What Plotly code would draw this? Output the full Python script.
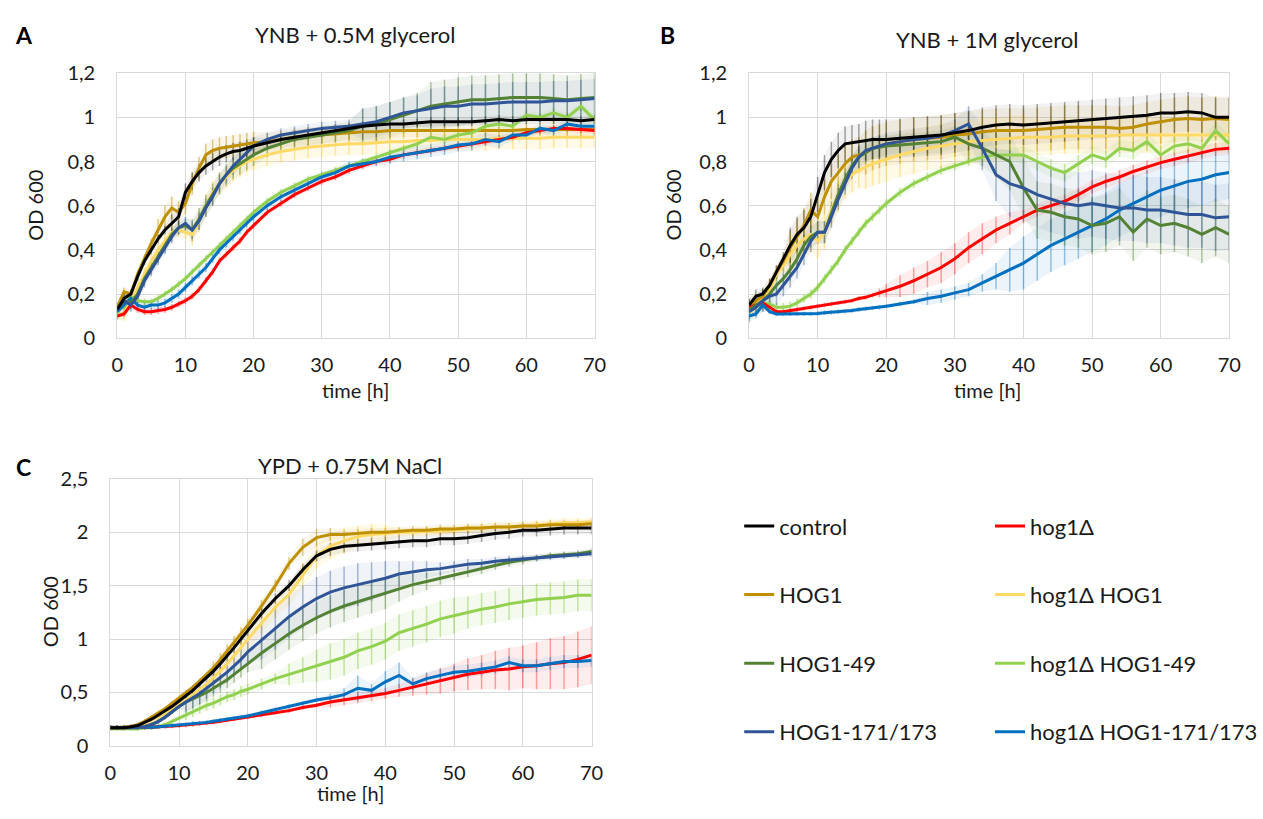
import plotly.graph_objects as go

# ---------------- data ----------------
T = [0, 1, 2, 3, 4, 5, 6, 7, 8, 9, 10, 11, 12, 13, 14, 15, 16, 17, 18, 19, 20,
     22, 24, 26, 28, 30, 32, 34, 36, 38, 40, 42, 44, 46, 48, 50, 52, 54, 56, 58,
     60, 62, 64, 66, 68, 70]

STRAINS = ["control", "hog1Δ", "HOG1", "hog1Δ HOG1", "HOG1-49", "hog1Δ HOG1-49",
           "HOG1-171/173", "hog1Δ HOG1-171/173"]

PANEL_TITLES = ["YNB + 0.5M glycerol", "YNB + 1M glycerol", "YPD + 0.75M NaCl"]
PANEL_LETTERS = ["A", "B", "C"]
X_TICKS = [0, 10, 20, 30, 40, 50, 60, 70]
Y_TICKS_AB = [0, 0.2, 0.4, 0.6, 0.8, 1.0, 1.2]
Y_TICKS_C = [0, 0.5, 1.0, 1.5, 2.0, 2.5]

# ----- Panel A: YNB + 0.5M glycerol -----
A_control = [0.13, 0.18, 0.2, 0.28, 0.35, 0.4, 0.45, 0.49, 0.52, 0.55, 0.66, 0.71, 0.75, 0.78, 0.8, 0.82, 0.835, 0.845, 0.85, 0.86, 0.87,
             0.885, 0.9, 0.91, 0.92, 0.93, 0.94, 0.95, 0.96, 0.965, 0.97, 0.97, 0.975, 0.98, 0.98, 0.98, 0.98, 0.985, 0.99, 0.985,
             0.99, 0.99, 0.99, 0.99, 0.985, 0.99]
A_control_err = [0.02, 0.02, 0.02, 0.02, 0.02, 0.02, 0.02, 0.02, 0.04, 0.04, 0.04, 0.04, 0.04, 0.04, 0.04, 0.04, 0.04, 0.04, 0.04, 0.04, 0.04,
                 0.02, 0.02, 0.02, 0.02, 0.02, 0.02, 0.02, 0.02, 0.02, 0.02, 0.02, 0.02, 0.02, 0.02, 0.02, 0.02, 0.02, 0.02, 0.02,
                 0.02, 0.02, 0.02, 0.02, 0.02, 0.02]
A_hog1d = [0.1, 0.11, 0.15, 0.13, 0.12, 0.12, 0.125, 0.13, 0.14, 0.155, 0.17, 0.19, 0.22, 0.26, 0.3, 0.35, 0.38, 0.41, 0.44, 0.48, 0.51,
           0.57, 0.61, 0.65, 0.68, 0.71, 0.73, 0.76, 0.78, 0.8, 0.81, 0.83, 0.84, 0.85, 0.86, 0.87, 0.88, 0.89, 0.9, 0.91,
           0.93, 0.94, 0.95, 0.95, 0.945, 0.94]
A_hog1d_err = [0.015, 0.015, 0.015, 0.015, 0.015, 0.015, 0.015, 0.015, 0.015, 0.015, 0.015, 0.015, 0.015, 0.015, 0.015, 0.015, 0.015, 0.015, 0.015, 0.015, 0.015,
               0.015, 0.015, 0.015, 0.015, 0.015, 0.015, 0.015, 0.015, 0.015, 0.015, 0.015, 0.015, 0.015, 0.015, 0.015, 0.015, 0.015, 0.015, 0.015,
               0.015, 0.015, 0.015, 0.015, 0.015, 0.015]
A_HOG1 = [0.14, 0.21, 0.2, 0.29, 0.36, 0.43, 0.49, 0.55, 0.59, 0.57, 0.61, 0.7, 0.77, 0.83, 0.85, 0.86, 0.865, 0.87, 0.875, 0.88, 0.885,
          0.89, 0.9, 0.91, 0.915, 0.92, 0.925, 0.93, 0.935, 0.935, 0.94, 0.94, 0.94, 0.94, 0.94, 0.94, 0.94, 0.94, 0.94, 0.94,
          0.945, 0.945, 0.945, 0.945, 0.945, 0.945]
A_HOG1_err = [0.02, 0.02, 0.02, 0.02, 0.02, 0.02, 0.05, 0.05, 0.05, 0.05, 0.05, 0.05, 0.05, 0.05, 0.05, 0.05, 0.05, 0.05, 0.05, 0.05, 0.05,
              0.04, 0.04, 0.04, 0.04, 0.04, 0.04, 0.04, 0.04, 0.04, 0.04, 0.03, 0.03, 0.03, 0.03, 0.03, 0.03, 0.03, 0.03, 0.03,
              0.03, 0.03, 0.03, 0.03, 0.03, 0.03]
A_hog1d_HOG1 = [0.11, 0.11, 0.17, 0.23, 0.29, 0.35, 0.4, 0.44, 0.48, 0.49, 0.48, 0.47, 0.53, 0.6, 0.66, 0.7, 0.73, 0.76, 0.78, 0.8, 0.81,
                0.83, 0.845, 0.855, 0.865, 0.87, 0.875, 0.88, 0.88, 0.885, 0.89, 0.89, 0.895, 0.895, 0.9, 0.9, 0.9, 0.9, 0.905, 0.905,
                0.905, 0.905, 0.91, 0.91, 0.91, 0.91]
A_hog1d_HOG1_err = [0.03, 0.03, 0.03, 0.03, 0.03, 0.03, 0.03, 0.03, 0.03, 0.03, 0.03, 0.05, 0.05, 0.05, 0.05, 0.05, 0.05, 0.05, 0.05, 0.05, 0.05,
                    0.05, 0.05, 0.05, 0.05, 0.05, 0.05, 0.05, 0.05, 0.05, 0.05, 0.05, 0.05, 0.05, 0.05, 0.05, 0.05, 0.05, 0.05, 0.05,
                    0.05, 0.05, 0.05, 0.05, 0.05, 0.05]
A_HOG1_49 = [0.13, 0.17, 0.16, 0.2, 0.27, 0.32, 0.37, 0.42, 0.47, 0.5, 0.51, 0.49, 0.54, 0.6, 0.65, 0.7, 0.74, 0.77, 0.79, 0.81, 0.83,
             0.86, 0.88, 0.9, 0.91, 0.92, 0.93, 0.94, 0.96, 0.97, 0.99, 1.01, 1.03, 1.05, 1.06, 1.07, 1.08, 1.08, 1.085, 1.09,
             1.09, 1.09, 1.085, 1.08, 1.085, 1.09]
A_HOG1_49_err = [0.03, 0.03, 0.03, 0.03, 0.03, 0.03, 0.03, 0.03, 0.03, 0.03, 0.03, 0.05, 0.05, 0.05, 0.05, 0.05, 0.05, 0.05, 0.05, 0.05, 0.05,
                 0.04, 0.04, 0.04, 0.04, 0.04, 0.04, 0.04, 0.08, 0.08, 0.08, 0.08, 0.08, 0.11, 0.11, 0.11, 0.11, 0.11, 0.11, 0.11,
                 0.11, 0.11, 0.11, 0.11, 0.11, 0.11]
A_hog1d_HOG1_49 = [0.13, 0.14, 0.19, 0.17, 0.165, 0.165, 0.18, 0.2, 0.22, 0.245, 0.27, 0.3, 0.33, 0.36, 0.39, 0.42, 0.45, 0.48, 0.51, 0.54, 0.57,
                   0.62, 0.66, 0.69, 0.72, 0.74, 0.76, 0.78, 0.8, 0.82, 0.84, 0.86, 0.88, 0.91, 0.9, 0.92, 0.93, 0.96, 0.97, 0.96,
                   1.01, 1.0, 1.02, 1.0, 1.05, 0.99]
A_hog1d_HOG1_49_err = [0.015, 0.015, 0.015, 0.015, 0.015, 0.015, 0.015, 0.015, 0.015, 0.015, 0.015, 0.015, 0.015, 0.015, 0.015, 0.015, 0.015, 0.015, 0.015, 0.015, 0.015,
                       0.015, 0.015, 0.015, 0.015, 0.015, 0.015, 0.015, 0.015, 0.015, 0.015, 0.015, 0.015, 0.02, 0.02, 0.02, 0.02, 0.02, 0.02, 0.02,
                       0.02, 0.02, 0.02, 0.02, 0.02, 0.02]
A_HOG1_171 = [0.13, 0.17, 0.15, 0.19, 0.26, 0.31, 0.36, 0.41, 0.46, 0.5, 0.52, 0.49, 0.53, 0.59, 0.64, 0.7, 0.74, 0.78, 0.81, 0.84, 0.87,
              0.9, 0.92, 0.93, 0.94, 0.95, 0.955, 0.96, 0.97, 0.98, 1.0, 1.02, 1.03, 1.04, 1.05, 1.05, 1.06, 1.06, 1.065, 1.07,
              1.07, 1.07, 1.075, 1.075, 1.08, 1.085]
A_HOG1_171_err = [0.03, 0.03, 0.03, 0.03, 0.03, 0.03, 0.03, 0.03, 0.03, 0.03, 0.03, 0.04, 0.04, 0.04, 0.04, 0.04, 0.04, 0.04, 0.04, 0.04, 0.04,
                  0.03, 0.03, 0.03, 0.03, 0.03, 0.03, 0.03, 0.07, 0.07, 0.07, 0.07, 0.07, 0.09, 0.09, 0.09, 0.09, 0.09, 0.09, 0.09,
                  0.09, 0.09, 0.09, 0.09, 0.09, 0.09]
A_hog1d_HOG1_171 = [0.12, 0.15, 0.18, 0.15, 0.14, 0.15, 0.15, 0.16, 0.18, 0.2, 0.23, 0.26, 0.29, 0.32, 0.36, 0.4, 0.43, 0.46, 0.49, 0.52, 0.55,
                    0.6, 0.64, 0.67, 0.7, 0.73, 0.75, 0.78, 0.79, 0.8, 0.82, 0.83, 0.84, 0.85, 0.86, 0.875, 0.88, 0.9, 0.89, 0.92,
                    0.92, 0.95, 0.94, 0.97, 0.96, 0.96]
A_hog1d_HOG1_171_err = [0.02, 0.02, 0.02, 0.02, 0.02, 0.02, 0.02, 0.02, 0.02, 0.02, 0.02, 0.02, 0.02, 0.02, 0.02, 0.02, 0.02, 0.02, 0.02, 0.02, 0.02,
                        0.02, 0.02, 0.02, 0.02, 0.02, 0.02, 0.02, 0.02, 0.02, 0.03, 0.03, 0.03, 0.03, 0.03, 0.03, 0.03, 0.03, 0.03, 0.02,
                        0.02, 0.02, 0.02, 0.02, 0.02, 0.02]

# ----- Panel B: YNB + 1M glycerol -----
B_control = [0.15, 0.19, 0.2, 0.24, 0.3, 0.36, 0.42, 0.47, 0.5, 0.55, 0.65, 0.75, 0.81, 0.85, 0.88, 0.885, 0.89, 0.895, 0.9, 0.9, 0.9,
             0.905, 0.91, 0.915, 0.92, 0.93, 0.94, 0.955, 0.965, 0.97, 0.965, 0.97, 0.975, 0.98, 0.985, 0.99, 0.995, 1.0, 1.005, 1.01,
             1.02, 1.02, 1.025, 1.02, 1.0, 1.0]
B_control_err = [0.03, 0.03, 0.03, 0.03, 0.03, 0.03, 0.08, 0.08, 0.08, 0.08, 0.08, 0.08, 0.08, 0.08, 0.08, 0.08, 0.08, 0.09, 0.09, 0.09, 0.09,
                 0.09, 0.09, 0.09, 0.09, 0.09, 0.09, 0.09, 0.09, 0.09, 0.09, 0.09, 0.09, 0.09, 0.09, 0.09, 0.09, 0.09, 0.09, 0.09,
                 0.09, 0.09, 0.09, 0.09, 0.09, 0.09]
B_hog1d = [0.14, 0.15, 0.16, 0.14, 0.12, 0.12, 0.125, 0.13, 0.135, 0.14, 0.145, 0.15, 0.155, 0.16, 0.165, 0.17, 0.18, 0.185, 0.195, 0.205, 0.215,
           0.235, 0.26, 0.29, 0.32, 0.36, 0.41, 0.45, 0.49, 0.52, 0.55, 0.58, 0.6, 0.62, 0.65, 0.685, 0.71, 0.73, 0.755, 0.775,
           0.795, 0.81, 0.825, 0.84, 0.855, 0.86]
B_hog1d_err = [0.01, 0.01, 0.01, 0.01, 0.01, 0.01, 0.01, 0.01, 0.01, 0.01, 0.01, 0.01, 0.01, 0.01, 0.01, 0.01, 0.01, 0.01, 0.01, 0.02, 0.03,
               0.05, 0.06, 0.06, 0.07, 0.07, 0.07, 0.07, 0.06, 0.05, 0.03, 0.03, 0.03, 0.03, 0.03, 0.03, 0.03, 0.03, 0.03, 0.03,
               0.03, 0.03, 0.03, 0.03, 0.03, 0.03]
B_HOG1 = [0.14, 0.17, 0.19, 0.24, 0.3, 0.35, 0.41, 0.46, 0.51, 0.58, 0.55, 0.64, 0.71, 0.75, 0.79, 0.82, 0.83, 0.84, 0.86, 0.87, 0.88,
          0.89, 0.9, 0.905, 0.91, 0.92, 0.925, 0.935, 0.94, 0.94, 0.94, 0.945, 0.95, 0.955, 0.955, 0.955, 0.955, 0.95, 0.955, 0.97,
          0.98, 0.99, 0.995, 0.99, 0.995, 0.99]
B_HOG1_err = [0.03, 0.03, 0.03, 0.03, 0.03, 0.03, 0.08, 0.08, 0.08, 0.08, 0.08, 0.08, 0.08, 0.08, 0.08, 0.08, 0.08, 0.1, 0.1, 0.1, 0.1,
              0.1, 0.1, 0.1, 0.1, 0.1, 0.1, 0.1, 0.1, 0.1, 0.1, 0.1, 0.1, 0.1, 0.1, 0.1, 0.1, 0.1, 0.1, 0.1,
              0.1, 0.1, 0.1, 0.1, 0.1, 0.1]
B_hog1d_HOG1 = [0.13, 0.15, 0.18, 0.22, 0.29, 0.33, 0.38, 0.42, 0.45, 0.47, 0.44, 0.48, 0.58, 0.65, 0.71, 0.74, 0.76, 0.775, 0.79, 0.8, 0.81,
                0.83, 0.845, 0.86, 0.87, 0.88, 0.89, 0.895, 0.9, 0.905, 0.91, 0.91, 0.91, 0.915, 0.915, 0.915, 0.915, 0.92, 0.92, 0.92,
                0.92, 0.92, 0.92, 0.92, 0.92, 0.92]
B_hog1d_HOG1_err = [0.03, 0.03, 0.03, 0.03, 0.03, 0.03, 0.08, 0.08, 0.08, 0.08, 0.08, 0.08, 0.08, 0.08, 0.08, 0.08, 0.08, 0.1, 0.1, 0.1, 0.1,
                    0.1, 0.1, 0.1, 0.1, 0.1, 0.1, 0.1, 0.1, 0.1, 0.1, 0.08, 0.08, 0.08, 0.08, 0.08, 0.08, 0.08, 0.08, 0.08,
                    0.08, 0.08, 0.08, 0.08, 0.08, 0.08]
B_HOG1_49 = [0.13, 0.15, 0.17, 0.2, 0.24, 0.27, 0.31, 0.36, 0.42, 0.46, 0.48, 0.48, 0.57, 0.65, 0.72, 0.78, 0.82, 0.84, 0.86, 0.865, 0.87,
             0.875, 0.88, 0.885, 0.89, 0.91, 0.88, 0.86, 0.83, 0.8, 0.68, 0.58, 0.57, 0.55, 0.54, 0.51, 0.52, 0.55, 0.48, 0.54,
             0.51, 0.52, 0.5, 0.47, 0.5, 0.47]
B_HOG1_49_err = [0.05, 0.05, 0.05, 0.05, 0.05, 0.05, 0.05, 0.05, 0.05, 0.05, 0.05, 0.05, 0.05, 0.05, 0.05, 0.05, 0.05, 0.05, 0.05, 0.05, 0.05,
                 0.05, 0.05, 0.05, 0.05, 0.05, 0.08, 0.08, 0.1, 0.13, 0.13, 0.13, 0.13, 0.13, 0.13, 0.13, 0.13, 0.13, 0.13, 0.13,
                 0.13, 0.13, 0.13, 0.13, 0.13, 0.13]
B_hog1d_HOG1_49 = [0.12, 0.14, 0.16, 0.155, 0.14, 0.14, 0.145, 0.16, 0.18, 0.2, 0.23, 0.27, 0.31, 0.35, 0.4, 0.44, 0.48, 0.52, 0.55, 0.58, 0.61,
                   0.66, 0.7, 0.73, 0.76, 0.78, 0.8, 0.82, 0.83, 0.83, 0.83, 0.8, 0.77, 0.75, 0.79, 0.83, 0.81, 0.86, 0.85, 0.89,
                   0.83, 0.87, 0.88, 0.86, 0.94, 0.88]
B_hog1d_HOG1_49_err = [0.02, 0.02, 0.02, 0.02, 0.02, 0.02, 0.02, 0.02, 0.02, 0.02, 0.02, 0.02, 0.02, 0.02, 0.02, 0.02, 0.02, 0.02, 0.02, 0.02, 0.02,
                       0.02, 0.02, 0.02, 0.02, 0.02, 0.02, 0.02, 0.02, 0.03, 0.04, 0.04, 0.04, 0.04, 0.04, 0.04, 0.04, 0.04, 0.04, 0.04,
                       0.04, 0.04, 0.04, 0.04, 0.04, 0.04]
B_HOG1_171 = [0.12, 0.14, 0.17, 0.19, 0.2, 0.24, 0.28, 0.32, 0.38, 0.44, 0.48, 0.48, 0.55, 0.63, 0.7, 0.77, 0.82, 0.85, 0.86, 0.87, 0.88,
              0.89, 0.9, 0.905, 0.915, 0.94, 0.97, 0.86, 0.74, 0.7, 0.68, 0.65, 0.63, 0.61, 0.6, 0.61, 0.6, 0.59, 0.59, 0.58,
              0.58, 0.57, 0.56, 0.56, 0.545, 0.55]
B_HOG1_171_err = [0.05, 0.05, 0.05, 0.05, 0.05, 0.05, 0.05, 0.05, 0.05, 0.05, 0.05, 0.05, 0.05, 0.05, 0.05, 0.05, 0.05, 0.05, 0.05, 0.05, 0.05,
                  0.05, 0.05, 0.05, 0.05, 0.05, 0.08, 0.1, 0.12, 0.15, 0.15, 0.15, 0.15, 0.15, 0.15, 0.15, 0.15, 0.15, 0.15, 0.15,
                  0.15, 0.15, 0.15, 0.15, 0.15, 0.15]
B_hog1d_HOG1_171 = [0.1, 0.11, 0.15, 0.12, 0.11, 0.11, 0.11, 0.11, 0.11, 0.11, 0.112, 0.115, 0.117, 0.12, 0.122, 0.125, 0.13, 0.133, 0.136, 0.14, 0.145,
                    0.155, 0.165, 0.18, 0.19, 0.205, 0.22, 0.25, 0.28, 0.31, 0.34, 0.38, 0.42, 0.45, 0.48, 0.51, 0.54, 0.58, 0.61, 0.64,
                    0.67, 0.69, 0.71, 0.72, 0.74, 0.75]
B_hog1d_HOG1_171_err = [0.01, 0.01, 0.01, 0.01, 0.01, 0.01, 0.01, 0.01, 0.01, 0.01, 0.01, 0.01, 0.01, 0.01, 0.01, 0.01, 0.01, 0.01, 0.01, 0.01, 0.01,
                        0.01, 0.01, 0.03, 0.03, 0.03, 0.03, 0.04, 0.06, 0.1, 0.12, 0.12, 0.12, 0.12, 0.12, 0.12, 0.12, 0.12, 0.12, 0.12,
                        0.12, 0.12, 0.12, 0.12, 0.12, 0.12]

# ----- Panel C: YPD + 0.75M NaCl -----
C_control = [0.17, 0.17, 0.17, 0.18, 0.19, 0.22, 0.25, 0.29, 0.33, 0.37, 0.42, 0.47, 0.52, 0.58, 0.64, 0.7, 0.77, 0.84, 0.92, 1.0, 1.08,
             1.24, 1.38, 1.5, 1.65, 1.78, 1.84, 1.87, 1.88, 1.89, 1.9, 1.91, 1.92, 1.92, 1.94, 1.94, 1.95, 1.97, 1.99, 2.0,
             2.02, 2.02, 2.03, 2.04, 2.04, 2.04]
C_control_err = [0.02, 0.02, 0.02, 0.02, 0.02, 0.02, 0.02, 0.02, 0.02, 0.02, 0.02, 0.02, 0.02, 0.02, 0.02, 0.05, 0.05, 0.05, 0.05, 0.05, 0.05,
                 0.05, 0.05, 0.05, 0.05, 0.05, 0.06, 0.06, 0.06, 0.06, 0.06, 0.06, 0.06, 0.06, 0.06, 0.06, 0.06, 0.06, 0.06, 0.06,
                 0.06, 0.06, 0.06, 0.06, 0.06, 0.06]
C_hog1d = [0.17, 0.17, 0.17, 0.17, 0.17, 0.17, 0.175, 0.18, 0.18, 0.185, 0.19, 0.195, 0.2, 0.205, 0.21, 0.22, 0.23, 0.24, 0.25, 0.26, 0.27,
           0.29, 0.31, 0.33, 0.36, 0.38, 0.41, 0.43, 0.45, 0.47, 0.49, 0.52, 0.55, 0.58, 0.61, 0.64, 0.67, 0.69, 0.71, 0.72,
           0.74, 0.75, 0.77, 0.78, 0.81, 0.85]
C_hog1d_err = [0.02, 0.02, 0.02, 0.02, 0.02, 0.02, 0.02, 0.02, 0.02, 0.02, 0.02, 0.02, 0.02, 0.02, 0.02, 0.02, 0.02, 0.02, 0.02, 0.02, 0.02,
               0.02, 0.02, 0.02, 0.02, 0.02, 0.05, 0.05, 0.05, 0.05, 0.05, 0.06, 0.08, 0.1, 0.12, 0.13, 0.15, 0.16, 0.18, 0.2,
               0.2, 0.22, 0.24, 0.25, 0.26, 0.27]
C_HOG1 = [0.17, 0.17, 0.175, 0.18, 0.2, 0.23, 0.27, 0.31, 0.35, 0.4, 0.45, 0.5, 0.55, 0.61, 0.67, 0.73, 0.81, 0.89, 0.97, 1.05, 1.13,
          1.31, 1.5, 1.71, 1.86, 1.95, 1.98, 1.98, 1.99, 2.0, 2.0, 2.01, 2.02, 2.02, 2.03, 2.03, 2.04, 2.04, 2.05, 2.05,
          2.06, 2.06, 2.07, 2.07, 2.07, 2.08]
C_HOG1_err = [0.02, 0.02, 0.02, 0.02, 0.02, 0.02, 0.02, 0.02, 0.02, 0.02, 0.02, 0.02, 0.02, 0.02, 0.02, 0.06, 0.06, 0.06, 0.06, 0.06, 0.06,
              0.06, 0.06, 0.06, 0.08, 0.08, 0.06, 0.04, 0.04, 0.04, 0.04, 0.04, 0.04, 0.04, 0.04, 0.04, 0.04, 0.04, 0.04, 0.04,
              0.04, 0.04, 0.04, 0.04, 0.04, 0.04]
C_hog1d_HOG1 = [0.17, 0.17, 0.17, 0.18, 0.19, 0.21, 0.24, 0.27, 0.31, 0.35, 0.39, 0.43, 0.48, 0.53, 0.58, 0.64, 0.7, 0.77, 0.84, 0.92, 1.0,
                1.15, 1.3, 1.42, 1.6, 1.78, 1.87, 1.92, 1.96, 1.98, 1.99, 2.0, 2.0, 2.01, 2.01, 2.02, 2.03, 2.04, 2.05, 2.05,
                2.06, 2.07, 2.08, 2.09, 2.09, 2.1]
C_hog1d_HOG1_err = [0.02, 0.02, 0.02, 0.02, 0.02, 0.02, 0.02, 0.02, 0.02, 0.02, 0.02, 0.02, 0.02, 0.02, 0.02, 0.1, 0.1, 0.1, 0.1, 0.1, 0.1,
                    0.1, 0.1, 0.1, 0.12, 0.12, 0.12, 0.12, 0.1, 0.1, 0.08, 0.04, 0.04, 0.04, 0.04, 0.04, 0.04, 0.04, 0.04, 0.04,
                    0.04, 0.04, 0.04, 0.04, 0.04, 0.04]
C_HOG1_49 = [0.17, 0.17, 0.17, 0.17, 0.17, 0.18, 0.2, 0.23, 0.27, 0.32, 0.37, 0.41, 0.44, 0.47, 0.5, 0.54, 0.58, 0.62, 0.67, 0.72, 0.77,
             0.87, 0.96, 1.05, 1.13, 1.2, 1.26, 1.31, 1.35, 1.39, 1.43, 1.47, 1.51, 1.54, 1.57, 1.6, 1.63, 1.66, 1.69, 1.72,
             1.74, 1.76, 1.78, 1.79, 1.8, 1.82]
C_HOG1_49_err = [0.02, 0.02, 0.02, 0.02, 0.02, 0.02, 0.02, 0.02, 0.02, 0.02, 0.02, 0.08, 0.08, 0.08, 0.08, 0.08, 0.08, 0.08, 0.08, 0.08, 0.08,
                 0.15, 0.15, 0.15, 0.15, 0.15, 0.15, 0.15, 0.15, 0.15, 0.15, 0.12, 0.1, 0.08, 0.06, 0.05, 0.05, 0.05, 0.04, 0.04,
                 0.04, 0.03, 0.03, 0.03, 0.03, 0.03]
C_hog1d_HOG1_49 = [0.16, 0.16, 0.16, 0.16, 0.16, 0.17, 0.17, 0.18, 0.2, 0.23, 0.26, 0.29, 0.32, 0.35, 0.38, 0.4, 0.43, 0.46, 0.48, 0.51, 0.53,
                   0.58, 0.63, 0.67, 0.71, 0.75, 0.79, 0.83, 0.89, 0.93, 0.98, 1.06, 1.1, 1.14, 1.19, 1.22, 1.25, 1.28, 1.3, 1.33,
                   1.35, 1.37, 1.38, 1.39, 1.41, 1.41]
C_hog1d_HOG1_49_err = [0.02, 0.02, 0.02, 0.02, 0.02, 0.02, 0.02, 0.02, 0.02, 0.02, 0.02, 0.05, 0.05, 0.05, 0.05, 0.05, 0.05, 0.05, 0.05, 0.05, 0.05,
                       0.05, 0.05, 0.1, 0.12, 0.15, 0.17, 0.17, 0.17, 0.17, 0.17, 0.17, 0.17, 0.17, 0.17, 0.17, 0.15, 0.15, 0.15, 0.15,
                       0.15, 0.15, 0.15, 0.15, 0.15, 0.15]
C_HOG1_171 = [0.17, 0.17, 0.17, 0.17, 0.17, 0.18, 0.2, 0.23, 0.27, 0.32, 0.37, 0.41, 0.45, 0.49, 0.54, 0.59, 0.64, 0.69, 0.75, 0.81, 0.88,
              0.99, 1.1, 1.21, 1.3, 1.38, 1.44, 1.48, 1.51, 1.54, 1.57, 1.61, 1.63, 1.65, 1.66, 1.68, 1.7, 1.71, 1.73, 1.74,
              1.75, 1.76, 1.77, 1.78, 1.79, 1.8]
C_HOG1_171_err = [0.02, 0.02, 0.02, 0.02, 0.02, 0.02, 0.02, 0.02, 0.02, 0.02, 0.02, 0.1, 0.1, 0.1, 0.1, 0.1, 0.1, 0.1, 0.1, 0.1, 0.1,
                  0.18, 0.2, 0.2, 0.2, 0.2, 0.2, 0.2, 0.2, 0.18, 0.16, 0.12, 0.1, 0.08, 0.06, 0.05, 0.05, 0.04, 0.04, 0.04,
                  0.03, 0.03, 0.03, 0.03, 0.03, 0.03]
C_hog1d_HOG1_171 = [0.17, 0.17, 0.17, 0.17, 0.17, 0.17, 0.175, 0.18, 0.185, 0.19, 0.195, 0.2, 0.21, 0.215, 0.22, 0.23, 0.24, 0.25, 0.26, 0.27, 0.28,
                    0.31, 0.34, 0.37, 0.4, 0.43, 0.45, 0.48, 0.54, 0.52, 0.6, 0.66, 0.58, 0.63, 0.66, 0.69, 0.7, 0.72, 0.74, 0.78,
                    0.75, 0.75, 0.77, 0.79, 0.79, 0.8]
C_hog1d_HOG1_171_err = [0.02, 0.02, 0.02, 0.02, 0.02, 0.02, 0.02, 0.02, 0.02, 0.02, 0.02, 0.02, 0.02, 0.02, 0.02, 0.02, 0.02, 0.02, 0.02, 0.02, 0.02,
                        0.02, 0.02, 0.02, 0.02, 0.02, 0.04, 0.06, 0.12, 0.06, 0.1, 0.12, 0.06, 0.06, 0.06, 0.06, 0.06, 0.06, 0.06, 0.06,
                        0.06, 0.06, 0.06, 0.06, 0.06, 0.06]

# ---------------- styling ----------------
COLORS = {
    "control": "#000000",
    "hog1Δ": "#FF0000",
    "HOG1": "#BF9000",
    "hog1Δ HOG1": "#FFD966",
    "HOG1-49": "#548235",
    "hog1Δ HOG1-49": "#92D050",
    "HOG1-171/173": "#2F5597",
    "hog1Δ HOG1-171/173": "#0070C0",
}
RGB = {
    "control": (0, 0, 0),
    "hog1Δ": (255, 0, 0),
    "HOG1": (191, 144, 0),
    "hog1Δ HOG1": (255, 217, 102),
    "HOG1-49": (84, 130, 53),
    "hog1Δ HOG1-49": (146, 208, 80),
    "HOG1-171/173": (47, 85, 151),
    "hog1Δ HOG1-171/173": (0, 112, 192),
}
BAR_ALPHA = {"control": 0.35, "hog1Δ": 0.35, "HOG1": 0.45, "hog1Δ HOG1": 0.6, "HOG1-49": 0.45,
             "hog1Δ HOG1-49": 0.5, "HOG1-171/173": 0.4, "hog1Δ HOG1-171/173": 0.4}
BAND_ALPHA = {"control": 0.05, "hog1Δ": 0.07, "HOG1": 0.08, "hog1Δ HOG1": 0.15, "HOG1-49": 0.08,
              "hog1Δ HOG1-49": 0.1, "HOG1-171/173": 0.07, "hog1Δ HOG1-171/173": 0.08}
DRAW_ORDER = ["hog1Δ HOG1", "HOG1", "hog1Δ HOG1-49", "hog1Δ", "hog1Δ HOG1-171/173",
              "HOG1-49", "HOG1-171/173", "control"]

PANELS = [
    dict(vals=[A_control, A_hog1d, A_HOG1, A_hog1d_HOG1, A_HOG1_49, A_hog1d_HOG1_49, A_HOG1_171, A_hog1d_HOG1_171],
         errs=[A_control_err, A_hog1d_err, A_HOG1_err, A_hog1d_HOG1_err, A_HOG1_49_err, A_hog1d_HOG1_49_err, A_HOG1_171_err, A_hog1d_HOG1_171_err]),
    dict(vals=[B_control, B_hog1d, B_HOG1, B_hog1d_HOG1, B_HOG1_49, B_hog1d_HOG1_49, B_HOG1_171, B_hog1d_HOG1_171],
         errs=[B_control_err, B_hog1d_err, B_HOG1_err, B_hog1d_HOG1_err, B_HOG1_49_err, B_hog1d_HOG1_49_err, B_HOG1_171_err, B_hog1d_HOG1_171_err]),
    dict(vals=[C_control, C_hog1d, C_HOG1, C_hog1d_HOG1, C_HOG1_49, C_hog1d_HOG1_49, C_HOG1_171, C_hog1d_HOG1_171],
         errs=[C_control_err, C_hog1d_err, C_HOG1_err, C_hog1d_HOG1_err, C_HOG1_49_err, C_hog1d_HOG1_49_err, C_HOG1_171_err, C_hog1d_HOG1_171_err]),
]

W, H = 1263, 819
# plot-area pixel boxes (left, right, top, bottom)
BOXES = [(113, 598, 62, 335), (755, 1243, 62, 335), (106, 595, 480, 755)]

FONT = "Lato, 'Open Sans', sans-serif"
fig = go.Figure()

axis_ids = [("x", "y"), ("x2", "y2"), ("x3", "y3")]
legend_col = {s: ("legend" if i % 2 == 0 else "legend2") for i, s in enumerate(STRAINS)}


def rgba(s, a):
    r, g, b = RGB[s]
    return f"rgba({r},{g},{b},{a})"


for p, panel in enumerate(PANELS):
    xa, ya = axis_ids[p]
    # light haze of the error range
    for s in DRAW_ORDER:
        i = STRAINS.index(s)
        v, e = panel["vals"][i], panel["errs"][i]
        upper = [a + b for a, b in zip(v, e)]
        lower = [a - b for a, b in zip(v, e)]
        fig.add_trace(go.Scatter(
            x=T + T[::-1], y=upper + lower[::-1], mode="lines", fill="toself",
            fillcolor=rgba(s, BAND_ALPHA[s]), line=dict(width=0, color="rgba(0,0,0,0)"),
            showlegend=False, hoverinfo="skip", xaxis=xa, yaxis=ya))
    # error bars
    for s in DRAW_ORDER:
        i = STRAINS.index(s)
        fig.add_trace(go.Scatter(
            x=T, y=panel["vals"][i], mode="markers",
            marker=dict(size=2, color="rgba(0,0,0,0)"),
            error_y=dict(type="data", array=panel["errs"][i], color=rgba(s, BAR_ALPHA[s]),
                         thickness=1.5, width=0),
            showlegend=False, hoverinfo="skip", xaxis=xa, yaxis=ya))
    for s in DRAW_ORDER:
        i = STRAINS.index(s)
        fig.add_trace(go.Scatter(
            x=T, y=panel["vals"][i], mode="lines", name=s,
            line=dict(color=COLORS[s], width=3),
            showlegend=(p == 0), legend=legend_col[s], legendgroup=s,
            legendrank=i + 1, xaxis=xa, yaxis=ya))

layout_axes = {}
for p, (l, r, t, b) in enumerate(BOXES):
    suffix = "" if p == 0 else str(p + 1)
    ymax = 1.2 if p < 2 else 2.5
    yticks = Y_TICKS_AB if p < 2 else Y_TICKS_C
    layout_axes["xaxis" + suffix] = dict(
        domain=[l / W, r / W], range=[0, 70], tickvals=X_TICKS,
        showgrid=True, gridcolor="#D9D9D9", gridwidth=1, zeroline=False,
        showline=True, linecolor="#D9D9D9", linewidth=1, mirror=True,
        ticks="", tickfont=dict(size=20, color="#1a1a1a", family=FONT),
        anchor="y" + suffix, ticklabelstandoff=9)
    layout_axes["yaxis" + suffix] = dict(
        domain=[1 - b / H, 1 - t / H], range=[0, ymax], tickvals=yticks,
        showgrid=True, gridcolor="#D9D9D9", gridwidth=1, zeroline=False,
        showline=True, linecolor="#D9D9D9", linewidth=1, mirror=True,
        ticks="", tickfont=dict(size=20, color="#1a1a1a", family=FONT),
        anchor="x" + suffix, ticklabelstandoff=17)

annotations = []
TITLE_POS = [(355, 22), (997, 27), (350, 466)]
LETTER_POS = [(18, 23), (672, 23), (18, 468)]
YT_POS = [(30, 198), (678, 198), (45, 617)]
XT_POS = [(355, 388), (997, 388), (350, 804)]
for p in range(3):
    annotations.append(dict(text=PANEL_TITLES[p], x=TITLE_POS[p][0] / W, y=1 - TITLE_POS[p][1] / H,
                            xref="paper", yref="paper", showarrow=False, xanchor="center", yanchor="middle",
                            font=dict(size=22, color="#1a1a1a", family=FONT)))
    annotations.append(dict(text="<b>" + PANEL_LETTERS[p] + "</b>", x=LETTER_POS[p][0] / W, y=1 - LETTER_POS[p][1] / H,
                            xref="paper", yref="paper", showarrow=False, xanchor="center", yanchor="middle",
                            font=dict(size=23, color="#000000", family=FONT)))
    annotations.append(dict(text="OD 600", x=YT_POS[p][0] / W, y=1 - YT_POS[p][1] / H, textangle=-90,
                            xref="paper", yref="paper", showarrow=False, xanchor="center", yanchor="middle",
                            font=dict(size=20, color="#1a1a1a", family=FONT)))
    annotations.append(dict(text="time [h]", x=XT_POS[p][0] / W, y=1 - XT_POS[p][1] / H,
                            xref="paper", yref="paper", showarrow=False, xanchor="center", yanchor="middle",
                            font=dict(size=20, color="#1a1a1a", family=FONT)))

legend_common = dict(bgcolor="rgba(0,0,0,0)", borderwidth=0, traceorder="grouped",
                     tracegroupgap=37, itemwidth=30, yanchor="top", xanchor="left",
                     font=dict(size=22, color="#1a1a1a", family=FONT))

fig.update_layout(
    width=W, height=H, margin=dict(l=0, r=0, t=0, b=0),
    paper_bgcolor="white", plot_bgcolor="white",
    separators=", ",
    font=dict(family=FONT, color="#1a1a1a"),
    annotations=annotations,
    legend=dict(x=745 / W, y=1 - 507 / H, **legend_common),
    legend2=dict(x=1000 / W, y=1 - 507 / H, **legend_common),
    **layout_axes,
)

fig.write_html("out.html", config={"displayModeBar": False},
               post_script="document.body.style.margin='0px';document.body.style.overflow='hidden';")
